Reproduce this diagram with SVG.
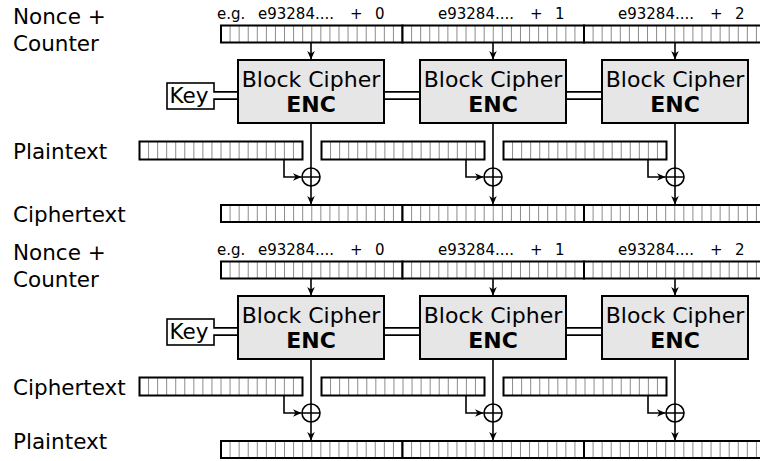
<svg xmlns="http://www.w3.org/2000/svg" xmlns:xlink="http://www.w3.org/1999/xlink" width="760" height="461" viewBox="0 0 760 461">
  <style>
    text { font-family: "DejaVu Sans", "Liberation Sans", sans-serif; fill: #000; }
    .lbl { font-size: 21.5px; }
    .ctr { font-size: 15px; }
    .bc { font-size: 22px; text-anchor: middle; }
    .enc { font-size: 22px; font-weight: bold; text-anchor: middle; }
    .box { fill: #e6e6e6; stroke: #000; stroke-width: 2; }
    .keybox { fill: #fff; stroke: #000; stroke-width: 1.6; }
    .cells { fill: none; stroke: #8c8c8c; stroke-width: 1; }
    .frame { fill: none; stroke: #000; stroke-width: 2; }
    .wire { fill: none; stroke: #000; stroke-width: 1.6; }
    .pipe-o { fill: none; stroke: #000; stroke-width: 9; }
    .pipe-i { fill: none; stroke: #fff; stroke-width: 5.4; }
    .xor { fill: #fff; stroke: #000; stroke-width: 1.6; }
  </style>
  <defs>
    <marker id="arr" markerUnits="userSpaceOnUse" markerWidth="11" markerHeight="10" viewBox="-10 -5 11 10" refX="0" refY="0" orient="auto">
      <path d="M0,0 L-8.5,-3.8 L-6,0 L-8.5,3.8 Z" fill="#000"/>
    </marker>
    <!-- 20-cell counter / output block, 181.5 x 17 -->
    <g id="blk20">
      <rect x="0" y="0" width="181.5" height="17" fill="#fff"/>
      <path class="cells" d="M9.08 0v17M18.15 0v17M27.23 0v17M36.3 0v17M45.38 0v17M54.45 0v17M63.53 0v17M72.6 0v17M81.68 0v17M90.75 0v17M99.83 0v17M108.9 0v17M117.98 0v17M127.05 0v17M136.13 0v17M145.2 0v17M154.28 0v17M163.35 0v17M172.43 0v17"/>
      <rect class="frame" x="0" y="0" width="181.5" height="17"/>
    </g>
    <!-- 18-cell input block, 163 x 18 -->
    <g id="blk18">
      <rect x="0" y="0" width="163" height="18" fill="#fff"/>
      <path class="cells" d="M9.06 0v18M18.11 0v18M27.17 0v18M36.22 0v18M45.28 0v18M54.33 0v18M63.39 0v18M72.44 0v18M81.5 0v18M90.56 0v18M99.61 0v18M108.67 0v18M117.72 0v18M126.78 0v18M135.83 0v18M144.89 0v18M153.94 0v18"/>
      <rect class="frame" x="0" y="0" width="163" height="18"/>
    </g>
    <!-- one CTR stage: counter row, three cipher blocks, xor row, output row -->
    <g id="stage">
      <g id="counter-row">
        <text class="ctr" x="217" y="19">e.g.</text>
        <text class="ctr" x="258" y="19">e93284....</text>
        <text class="ctr" x="350" y="19">+</text>
        <text class="ctr" x="375" y="19">0</text>
        <text class="ctr" x="438" y="19">e93284....</text>
        <text class="ctr" x="530" y="19">+</text>
        <text class="ctr" x="555" y="19">1</text>
        <text class="ctr" x="618" y="19">e93284....</text>
        <text class="ctr" x="710" y="19">+</text>
        <text class="ctr" x="735" y="19">2</text>
        <use xlink:href="#blk20" x="221" y="25.5"/>
        <use xlink:href="#blk20" x="402.5" y="25.5"/>
        <use xlink:href="#blk20" x="584" y="25.5"/>
      </g>
      <g id="key">
        <rect class="keybox" x="167" y="83" width="47" height="26"/>
        <text class="lbl" x="169.5" y="102.5">Key</text>
      </g>
      <g id="pipes">
        <path class="pipe-o" d="M214 95.5H240M383 95.5H422M565 95.5H604"/>
        <path class="pipe-i" d="M213 95.5H240M383 95.5H422M565 95.5H604"/>
      </g>
      <g id="cipher-1">
        <rect class="box" x="238" y="60" width="146" height="63"/>
        <text class="bc" x="311" y="87">Block Cipher</text>
        <text class="enc" x="311" y="112">ENC</text>
      </g>
      <g id="cipher-2">
        <rect class="box" x="420" y="60" width="146" height="63"/>
        <text class="bc" x="493" y="87">Block Cipher</text>
        <text class="enc" x="493" y="112">ENC</text>
      </g>
      <g id="cipher-3">
        <rect class="box" x="602" y="60" width="146" height="63"/>
        <text class="bc" x="675" y="87">Block Cipher</text>
        <text class="enc" x="675" y="112">ENC</text>
      </g>
      <g id="input-row">
        <use xlink:href="#blk18" x="139.5" y="141.5"/>
        <use xlink:href="#blk18" x="321.5" y="141.5"/>
        <use xlink:href="#blk18" x="503.5" y="141.5"/>
      </g>
      <g id="output-row">
        <use xlink:href="#blk20" x="221" y="205"/>
        <use xlink:href="#blk20" x="402.5" y="205"/>
        <use xlink:href="#blk20" x="584" y="205"/>
      </g>
      <g id="connectors">
        <path class="wire" marker-end="url(#arr)" d="M311 42.5V59.5"/>
        <path class="wire" marker-end="url(#arr)" d="M493 42.5V59.5"/>
        <path class="wire" marker-end="url(#arr)" d="M675 42.5V59.5"/>
        <path class="wire" d="M311 123V168M493 123V168M675 123V168"/>
        <path class="wire" marker-end="url(#arr)" d="M284 159.5V177H301.5"/>
        <path class="wire" marker-end="url(#arr)" d="M466 159.5V177H483.5"/>
        <path class="wire" marker-end="url(#arr)" d="M648 159.5V177H665.5"/>
        <path class="wire" marker-end="url(#arr)" d="M311 186V204.5"/>
        <path class="wire" marker-end="url(#arr)" d="M493 186V204.5"/>
        <path class="wire" marker-end="url(#arr)" d="M675 186V204.5"/>
      </g>
      <g id="xors">
        <circle class="xor" cx="311" cy="177" r="9"/>
        <circle class="xor" cx="493" cy="177" r="9"/>
        <circle class="xor" cx="675" cy="177" r="9"/>
        <path class="wire" d="M302 177H320M311 168V186M484 177H502M493 168V186M666 177H684M675 168V186"/>
      </g>
    </g>
  </defs>

  <!-- encryption -->
  <g id="encrypt">
    <text class="lbl" x="13" y="24">Nonce +</text>
    <text class="lbl" x="13" y="51">Counter</text>
    <text class="lbl" x="13" y="159">Plaintext</text>
    <text class="lbl" x="13" y="222">Ciphertext</text>
    <use xlink:href="#stage"/>
  </g>

  <!-- decryption -->
  <g id="decrypt" transform="translate(0,236)">
    <text class="lbl" x="13" y="24">Nonce +</text>
    <text class="lbl" x="13" y="51">Counter</text>
    <text class="lbl" x="13" y="159">Ciphertext</text>
    <text class="lbl" x="13" y="213">Plaintext</text>
    <use xlink:href="#stage"/>
  </g>
</svg>
